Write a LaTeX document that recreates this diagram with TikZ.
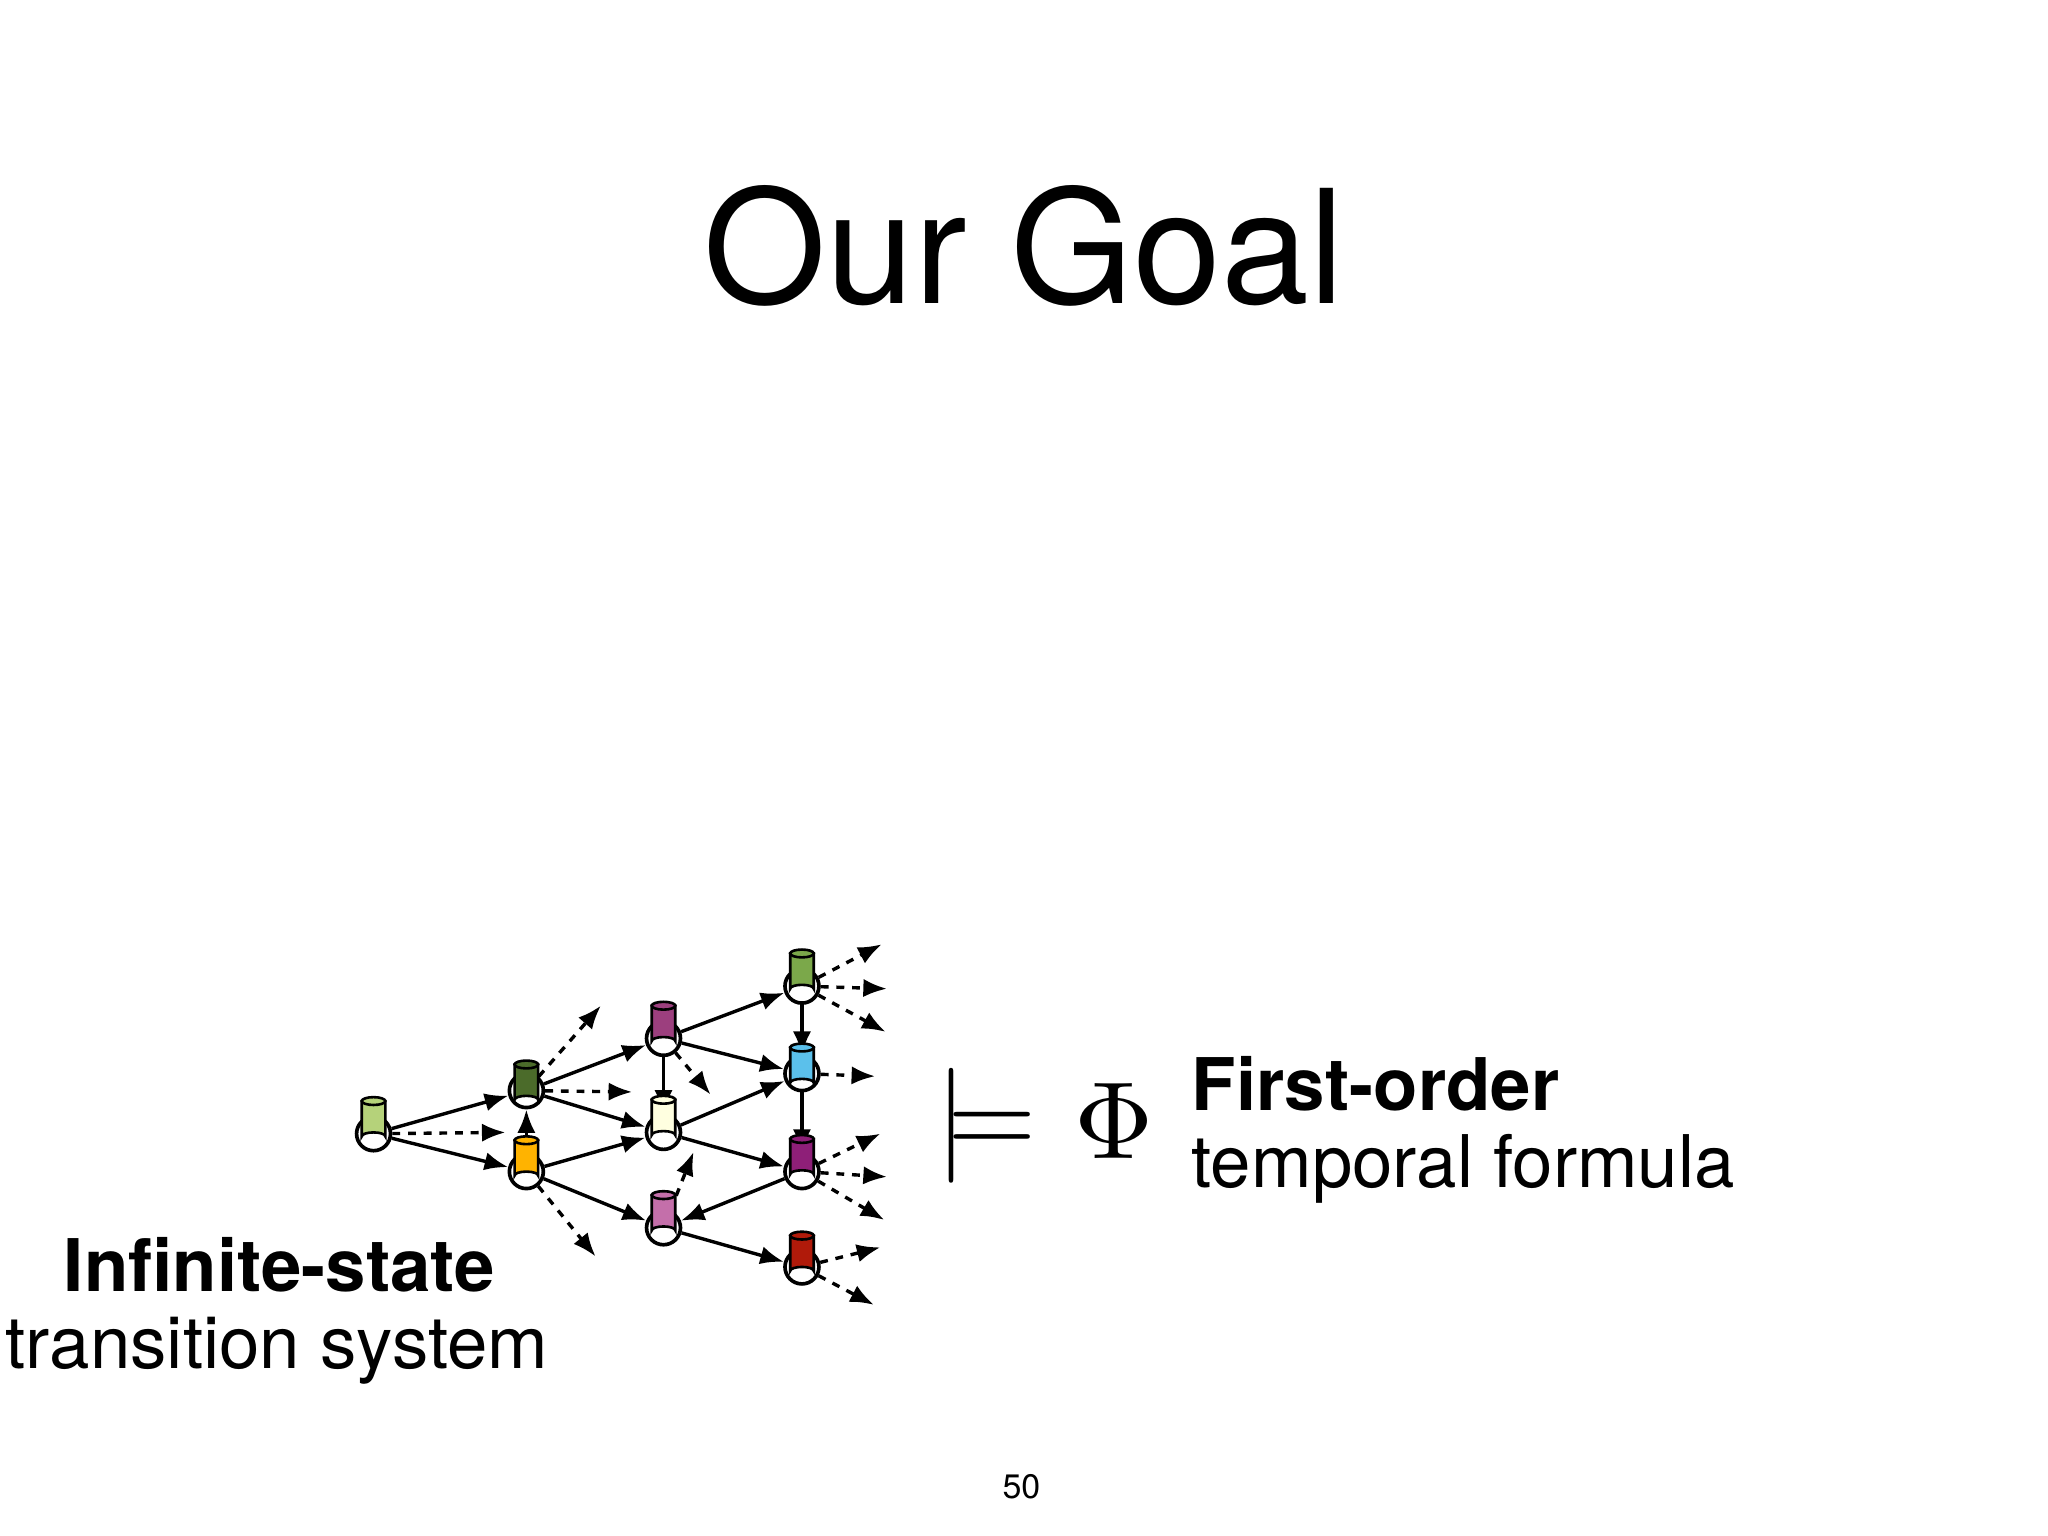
\documentclass[tikz,border=0pt]{standalone}
\usepackage{fontspec}
\setmainfont{TeX Gyre Heros}
\usetikzlibrary{arrows.meta}
\definecolor{c0}{HTML}{B5D27A}\definecolor{cA}{HTML}{4B6B2A}\definecolor{cB}{HTML}{FFB300}
\definecolor{cC}{HTML}{9C3F7E}\definecolor{cD}{HTML}{FFFFE0}\definecolor{cE}{HTML}{C46FAA}
\definecolor{cF}{HTML}{7BA84A}\definecolor{cG}{HTML}{5BC0EB}\definecolor{cH}{HTML}{8E1F78}
\definecolor{cI}{HTML}{B01A0A}
\newcommand\mycyl[3]{%
 \fill[#3,draw=black,line width=1pt] (#1-9,#2-27) -- (#1-9,#2) arc[start angle=180,end angle=360,x radius=9,y radius=3] -- (#1+9,#2-27) -- cycle;
 \filldraw[fill=#3,draw=black,line width=1pt] (#1,#2-27) ellipse[x radius=9,y radius=3];}
\begin{document}
\begin{tikzpicture}[x=0.5pt,y=-0.5pt,
 st/.style={circle,draw,line width=1.4pt,fill=white,minimum size=13pt,inner sep=0pt},
 tr/.style={-{Latex[length=9pt,width=7pt]},line width=1.3pt},
 dtr/.style={tr,dashed,dash pattern=on 3pt off 3pt},
 lbl/.style={font=\fontsize{27.8pt}{30pt}\selectfont}]
\useasboundingbox (0,0) rectangle (1568,1176);
\node at (784,188) {\fontsize{60.5pt}{64pt}\selectfont Our Goal};
\node at (782,1138) {\fontsize{13pt}{15pt}\selectfont 50};
\node[lbl] at (214,968) {\bfseries Infinite-state};
\node[lbl] at (212,1034) {transition system};
\node[lbl,anchor=west,inner sep=0pt] at (912,830) {\bfseries First-order};
\node[lbl,anchor=west,inner sep=0pt] at (912,895) {temporal formula};
\node[inner sep=0pt] (models) at (755,862) {\scalebox{4.4}{$\models$}};
\node[inner sep=0pt] (phi) at (853,858) {\scalebox{4.2}{$\Phi$}};
\node[st] (n0) at (286,868) {};
\node[st] (A) at (403,835) {};
\node[st] (B) at (403,897) {};
\node[st] (C) at (508,795) {};
\node[st] (D) at (508,867) {};
\node[st] (E) at (508,940) {};
\node[st] (F) at (614,755) {};
\node[st] (G) at (614,822) {};
\node[st] (H) at (614,897) {};
\node[st] (I) at (614,970) {};
\foreach \n/\x/\y in {d0/387/867,dA1/460/770,dA2/484/836,dB/456/962,dC/544/838,dE/531/882,
 dF1/675/723,dF2/679/757,dF3/678/790,dG/670/824,dH1/674/868,dH2/679/901,dH3/677/934,dI1/674/955,dI2/669/999}
 \coordinate (\n) at (\x,\y);
\draw[tr] (n0) -- (A); \draw[tr] (n0) -- (B);
\draw[tr] (A) -- (C); \draw[tr] (A) -- (D);
\draw[tr] (B) -- (A); \draw[tr] (B) -- (D); \draw[tr] (B) -- (E);
\draw[tr] (C) -- (F); \draw[tr] (C) -- (G); \draw[tr] (C) -- (D);
\draw[tr] (D) -- (G); \draw[tr] (D) -- (H);
\draw[tr] (H) -- (E); \draw[tr] (E) -- (I);
\draw[tr] (F) -- (G); \draw[tr] (G) -- (H);
\draw[dtr] (n0) -- (d0); \draw[dtr] (A) -- (dA1); \draw[dtr] (A) -- (dA2);
\draw[dtr] (B) -- (dB); \draw[dtr] (C) -- (dC); \draw[dtr] (E) -- (dE);
\draw[dtr] (F) -- (dF1); \draw[dtr] (F) -- (dF2); \draw[dtr] (F) -- (dF3);
\draw[dtr] (G) -- (dG);
\draw[dtr] (H) -- (dH1); \draw[dtr] (H) -- (dH2); \draw[dtr] (H) -- (dH3);
\draw[dtr] (I) -- (dI1); \draw[dtr] (I) -- (dI2);
\mycyl{286}{870}{c0}\mycyl{403}{842}{cA}\mycyl{403}{900}{cB}
\mycyl{508}{797}{cC}\mycyl{508}{869}{cD}\mycyl{508}{942}{cE}
\mycyl{614}{757}{cF}\mycyl{614}{829}{cG}\mycyl{614}{899}{cH}\mycyl{614}{973}{cI}
\end{tikzpicture}
\end{document}
